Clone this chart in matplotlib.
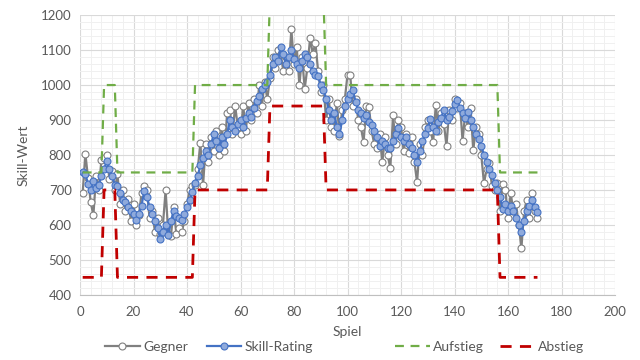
import numpy as np
import matplotlib
matplotlib.use("Agg")
import matplotlib.pyplot as plt
from matplotlib.ticker import MultipleLocator

plt.rcParams['font.family'] = ['Lato', 'DejaVu Sans']

# Skill-Rating nach jedem Spiel
skill = [750, 745, 718, 700, 725, 705, 715, 740, 760, 782,
         760, 740, 715, 712, 690, 672, 665, 650, 640, 630,
         615, 630, 655, 697, 680, 650, 630, 610, 590, 560,
         580, 600, 570, 610, 640, 625, 620, 615, 630, 650,
         670, 695, 720, 740, 770, 790, 810, 800, 830, 860,
         840, 820, 850, 830, 860, 900, 880, 870, 890, 900,
         880, 905, 920, 910, 935, 955, 970, 990, 1000, 1010,
         1030, 1060, 1080, 1070, 1110, 1090, 1060, 1080, 1100, 1075,
         1060, 1050, 1070, 1090, 1080, 1060, 1040, 1030, 1025, 1000,
         985, 960, 930, 900, 920, 880, 860, 900, 940, 960,
         975, 985, 952, 930, 920, 905, 913, 895, 885, 870,
         850, 827, 840, 830, 820, 819, 840, 860, 876, 850,
         840, 850, 830, 820, 800, 780, 810, 840, 860, 876,
         904, 880, 870, 894, 905, 930, 900, 910, 925, 945,
         956, 935, 920, 905, 923, 900, 880, 860, 845, 827,
         800, 780, 760, 742, 720, 700, 680, 646, 661, 640,
         655, 640, 620, 600, 579, 610, 640, 655, 670, 650,
         636]

# Rating des Gegners
gegner = [691, 804, 735, 665, 627, 740, 700, 785, 790, 800,
          730, 755, 700, 745, 660, 700, 640, 675, 612, 660,
          600, 628, 690, 710, 700, 620, 640, 580, 620, 575,
          600, 699, 575, 568, 650, 575, 590, 580, 610, 660,
          700, 710, 715, 760, 833, 713, 830, 780, 850, 810,
          870, 800, 880, 810, 920, 930, 860, 940, 880, 860,
          940, 870, 950, 900, 960, 920, 1000, 940, 1010, 960,
          1020, 1080, 1050, 1100, 1090, 1040, 1080, 1040, 1159, 1060,
          1110, 1000, 1080, 990, 1050, 1134, 1090, 1120, 1040, 980,
          1000, 900, 960, 880, 870, 950, 855, 930, 960, 1030,
          1028, 940, 960, 900, 880, 836, 940, 936, 870, 830,
          820, 860, 779, 850, 800, 762, 913, 830, 900, 880,
          810, 860, 805, 850, 780, 722, 830, 800, 880, 900,
          870, 837, 944, 870, 920, 890, 826, 930, 900, 960,
          935, 950, 840, 920, 880, 934, 813, 880, 860, 800,
          719, 760, 776, 710, 700, 720, 640, 718, 700, 620,
          690, 640, 660, 600, 533, 640, 670, 620, 690, 640,
          620]

# Auf-/Abstiegsgrenzen je Spiel: (bis Spiel, Aufstieg, Abstieg)
stufen = [(8, 750, 450), (13, 1000, 700), (42, 750, 450), (70, 1000, 700),
          (91, 1250, 940), (156, 1000, 700), (171, 750, 450)]

spiel = np.arange(1, len(skill) + 1)
aufstieg = []
abstieg = []
for s in spiel:
    for bis, auf, ab in stufen:
        if s <= bis:
            aufstieg.append(auf)
            abstieg.append(ab)
            break

fig = plt.figure(figsize=(6.4, 3.6), dpi=100)
ax = fig.add_axes([0.125, 0.181, 0.836, 0.777])

h1, = ax.plot(spiel, gegner, color='#808080', lw=1.6, marker='o', ms=5,
              mfc='white', mec='#808080', mew=0.8, label='Gegner')
h2, = ax.plot(spiel, skill, color='#4472c4', lw=1.6, marker='o', ms=5,
              mfc='#8faadc', mec='#4472c4', mew=0.8, label='Skill-Rating')
h3, = ax.plot(spiel, aufstieg, color='#70ad47', lw=1.6, ls=(0, (4, 3)), label='Aufstieg')
h4, = ax.plot(spiel, abstieg, color='#c00000', lw=2.0, ls=(0, (4, 3)), label='Abstieg')

ax.set_xlim(0, 200)
ax.set_ylim(400, 1200)
ax.xaxis.set_major_locator(MultipleLocator(20))
ax.xaxis.set_minor_locator(MultipleLocator(4))
ax.yaxis.set_major_locator(MultipleLocator(100))
ax.yaxis.set_minor_locator(MultipleLocator(20))
ax.grid(which='major', color='#d9d9d9', lw=0.8)
ax.grid(which='minor', color='#f0f0f0', lw=0.7)
ax.set_axisbelow(True)

for side in ['left', 'right', 'top']:
    ax.spines[side].set_visible(False)
ax.spines['bottom'].set_color('#bfbfbf')
ax.tick_params(which='both', length=0, colors='#595959', labelsize=9.5)
ax.tick_params(axis='x', pad=8)
ax.tick_params(axis='y', pad=6)

ax.set_xlabel('Spiel', color='#595959', fontsize=10, labelpad=6)
ax.set_ylabel('Skill-Wert', color='#595959', fontsize=10, labelpad=8)

# Legende: Einträge einzeln platziert wie im Original
for h, x0 in [(h1, 0.164), (h2, 0.323), (h3, 0.617), (h4, 0.781)]:
    fig.legend(handles=[h], loc='center left', bbox_to_anchor=(x0, 0.036),
               frameon=False, fontsize=10, labelcolor='#595959',
               handlelength=2.5, handletextpad=0.25, borderpad=0, borderaxespad=0)

fig.savefig('out.png', dpi=100)
